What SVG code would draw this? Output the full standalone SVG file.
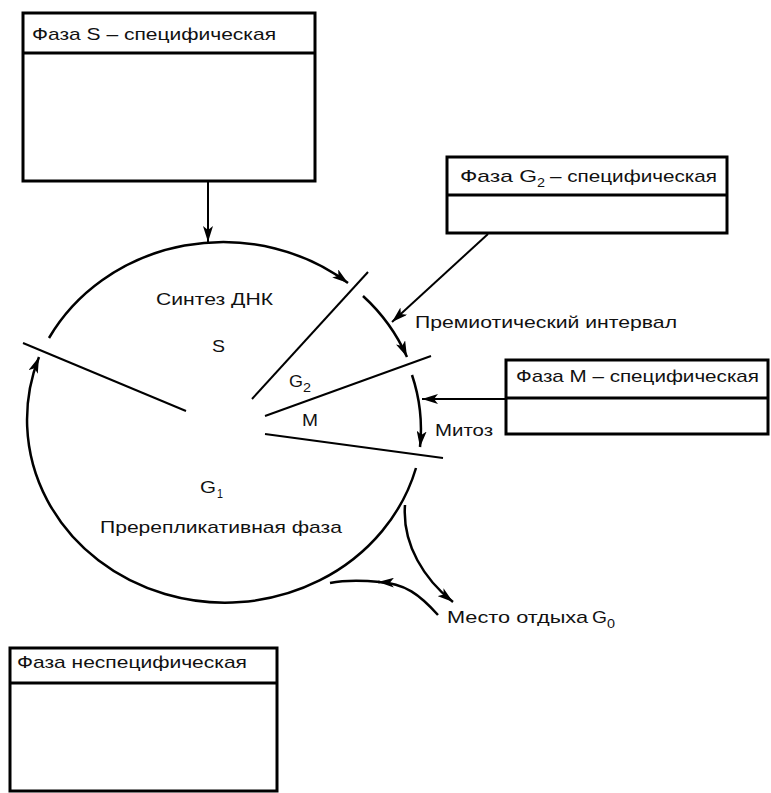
<svg xmlns="http://www.w3.org/2000/svg" width="771" height="793" viewBox="0 0 771 793">
<style>
.box{fill:#fff;stroke:#000;stroke-width:3}
.hl{stroke:#000;stroke-width:3}
.t{font-family:"Liberation Sans",Arial,sans-serif;font-size:17px;fill:#111}
.sub{font-family:"Liberation Sans",Arial,sans-serif;font-size:13px;fill:#111}
.ln{fill:none;stroke:#000;stroke-width:2}
.arc{fill:none;stroke:#000;stroke-width:2.5}
</style>
<defs>
<marker id="ah" viewBox="0 0 16 10" refX="16" refY="5" markerWidth="16" markerHeight="10" markerUnits="userSpaceOnUse" orient="auto">
<path d="M0,0 L16,5 L0,10 L4,5 Z" fill="#000"/>
</marker>
</defs>
<rect width="771" height="793" fill="#fff"/>

<g id="box-s">
<rect class="box" x="23" y="13" width="292" height="168"/>
<line class="hl" x1="23" y1="53" x2="315" y2="53"/>
<text class="t" x="32" y="40" textLength="244" lengthAdjust="spacingAndGlyphs">Фаза S – специфическая</text>
</g>

<g id="box-g2">
<rect class="box" x="447" y="157" width="280" height="76"/>
<line class="hl" x1="447" y1="195" x2="727" y2="195"/>
<text class="t" x="460" y="182" textLength="77" lengthAdjust="spacingAndGlyphs">Фаза G</text>
<text class="sub" x="537" y="187" textLength="8" lengthAdjust="spacingAndGlyphs">2</text>
<text class="t" x="550" y="182" textLength="167" lengthAdjust="spacingAndGlyphs">– специфическая</text>
</g>

<g id="box-m">
<rect class="box" x="506" y="360" width="262" height="74"/>
<line class="hl" x1="506" y1="398" x2="768" y2="398"/>
<text class="t" x="516" y="382" textLength="243" lengthAdjust="spacingAndGlyphs">Фаза М – специфическая</text>
</g>

<g id="box-nonspec">
<rect class="box" x="10" y="648" width="267" height="143"/>
<line class="hl" x1="10" y1="683" x2="277" y2="683"/>
<text class="t" x="17" y="668" textLength="230" lengthAdjust="spacingAndGlyphs">Фаза неспецифическая</text>
</g>

<g id="cycle">
<path class="arc" d="M49,338 A198,183 0 0 1 348,283" marker-end="url(#ah)"/>
<path class="arc" d="M363,296 A198,183 0 0 1 407,357" marker-end="url(#ah)"/>
<path class="arc" d="M412,375 A198,183 0 0 1 420,447" marker-end="url(#ah)"/>
<path class="arc" d="M416,468 A198,183 0 1 1 39,357" marker-end="url(#ah)"/>
<line class="ln" x1="23" y1="343" x2="186" y2="411"/>
<line class="ln" x1="252" y1="399" x2="368" y2="272"/>
<line class="ln" x1="265" y1="416" x2="431" y2="356"/>
<line class="ln" x1="265" y1="434" x2="443" y2="458"/>
</g>

<g id="labels">
<text class="t" x="156" y="305" textLength="117" lengthAdjust="spacingAndGlyphs">Синтез ДНК</text>
<text class="t" x="212" y="352" textLength="13" lengthAdjust="spacingAndGlyphs">S</text>
<text class="t" x="289" y="387" textLength="14" lengthAdjust="spacingAndGlyphs">G</text>
<text class="sub" x="303" y="392" textLength="8" lengthAdjust="spacingAndGlyphs">2</text>
<text class="t" x="302" y="426" textLength="16" lengthAdjust="spacingAndGlyphs">M</text>
<text class="t" x="200" y="493" textLength="16" lengthAdjust="spacingAndGlyphs">G</text>
<text class="sub" x="217" y="498" textLength="6" lengthAdjust="spacingAndGlyphs">1</text>
<text class="t" x="100" y="533" textLength="242" lengthAdjust="spacingAndGlyphs">Пререпликативная фаза</text>
<text class="t" x="415" y="328" textLength="262" lengthAdjust="spacingAndGlyphs">Премиотический интервал</text>
<text class="t" x="435" y="436" textLength="58" lengthAdjust="spacingAndGlyphs">Митоз</text>
<text class="t" x="447" y="623" textLength="141" lengthAdjust="spacingAndGlyphs">Место отдыха</text>
<text class="t" x="592" y="623" textLength="15" lengthAdjust="spacingAndGlyphs">G</text>
<text class="sub" x="607" y="628" textLength="8" lengthAdjust="spacingAndGlyphs">0</text>
</g>

<g id="connectors">
<line class="ln" x1="208" y1="181" x2="208" y2="242" marker-end="url(#ah)"/>
<line class="ln" x1="488" y1="234" x2="392" y2="322" marker-end="url(#ah)"/>
<line class="ln" x1="506" y1="399" x2="422" y2="399" marker-end="url(#ah)"/>
<path class="arc" d="M405,505 C402,545 425,580 453,602" marker-end="url(#ah)"/>
<path class="arc" d="M438,615 C420,595 405,583 378,582" marker-end="url(#ah)"/>
<path class="arc" d="M380,582 C360,580 345,580 330,583"/>
</g>
</svg>
